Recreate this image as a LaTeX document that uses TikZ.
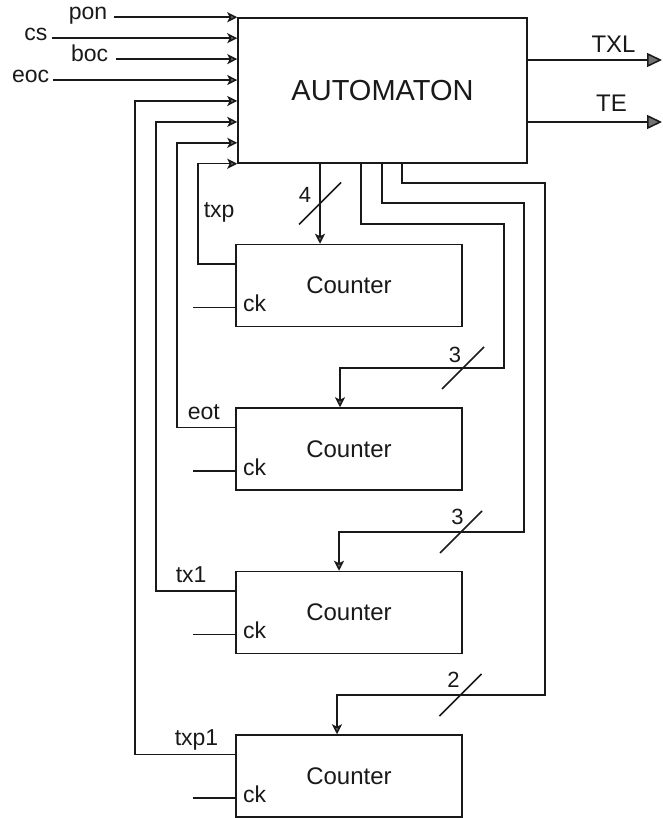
\documentclass[tikz,border=0pt]{standalone}
\usepackage{fontspec}
\setmainfont{Liberation Sans}
\usetikzlibrary{arrows.meta,calc}

\begin{document}
\begin{tikzpicture}[x=1pt, y=-1pt, line width=1.5pt, color=black!90,
  >={Stealth[length=10pt,width=10pt,inset=2.5pt,fill=black!55]},
  box/.style={draw, rectangle, inner sep=0pt},
  lbl/.style={font=\fontsize{23}{26}\selectfont, inner sep=0pt},
  num/.style={font=\fontsize{22}{26}\selectfont, inner sep=0pt},
  outarrow/.style={-{Triangle[length=15pt,width=14pt,fill=black!55]}}]

\useasboundingbox (0,0) rectangle (662,818);

% Automaton
\node[box, minimum width=289pt, minimum height=145pt,
  font=\fontsize{29}{32}\selectfont] (auto) at (382.5,90.5) {AUTOMATON};

% Counters
\foreach \n/\y in {1/285.5, 2/449, 3/612.5, 4/776}
  \node[box, minimum width=226pt, minimum height=82pt,
    font=\fontsize{24}{28}\selectfont] (cnt\n) at (349,\y) {Counter};

% Input points on the left side of the automaton
\foreach \i [evaluate=\i as \f using \i/7] in {0,...,7}
  \coordinate (in\i) at ($(auto.north west)!\f!(auto.south west)$);

% External inputs
\foreach \name/\x/\gap/\i in {pon/108/6/0, cs/48/4/1, boc/109/7/2, eoc/50/3/3} {
  \node[lbl, anchor=mid east] (\name) at (\x,0 |- in\i) {\name};
  \draw[->] ([xshift=\gap pt]\name.mid east) -- (in\i);
}

% Feedback from the counters
\foreach \n/\x/\i in {1/198/7, 2/177/6, 3/156/5, 4/135/4} {
  \coordinate (fb\n) at ($(cnt\n.north west)+(0,20)$);
  \draw[->] (fb\n) -| (\x,0 |- in\i) -- (in\i);
}
\node[lbl, anchor=base west] (txp) at (203,218) {txp};
\node[lbl, anchor=base west] (eot) at (187,419) {eot};
\node[lbl, anchor=base west] (txl) at (175,582) {tx1};
\node[lbl, anchor=base west] (txpl) at (174,745) {txp1};

% Clock inputs
\foreach \n in {1,...,4} {
  \coordinate (ck\n) at ($(cnt\n.south west)+(0,-20)$);
  \coordinate (clk\n) at ($(ck\n)+(-42,0)$);
  \draw (clk\n) -- (ck\n);
  \node[lbl, anchor=mid west, yshift=-2pt] at ([xshift=7pt]ck\n) {ck};
}

% Outputs
\coordinate (TXLend) at (662,60);
\coordinate (TEend) at (662,122);
\draw[outarrow] (auto.east |- TXLend) -- (TXLend);
\draw[outarrow] (auto.east |- TEend) -- (TEend);
\node[font=\fontsize{24}{28}\selectfont, inner sep=0pt] at (613.5,44) {TXL};
\node[font=\fontsize{24}{28}\selectfont, inner sep=0pt] at (611.5,103) {TE};

% Buses to the counters
\foreach \k/\x in {1/320, 2/361, 3/382, 4/402}
  \coordinate (bus\k) at (auto.south -| \x,0);
\draw[->] (bus1) -- (bus1 |- cnt1.north);
\draw[->] (bus2) |- (504,224) |- (340,368) -- (340,0 |- cnt2.north);
\draw[->] (bus3) |- (524,203) |- (339,532) -- (339,0 |- cnt3.north);
\draw[->] (bus4) |- (545,183) |- (337,695) -- (337,0 |- cnt4.north);

% Bus widths
\foreach \x/\y/\w/\lx/\ly in {320/203.5/4/305/194.5, 463/368/3/455/354.5,
    461/532/3/457.5/516.5, 460.5/695/2/453.5/679.5} {
  \draw ({\x-21},{\y+21}) -- ({\x+21},{\y-21});
  \node[num] at (\lx,\ly) {\w};
}

\end{tikzpicture}
\end{document}
